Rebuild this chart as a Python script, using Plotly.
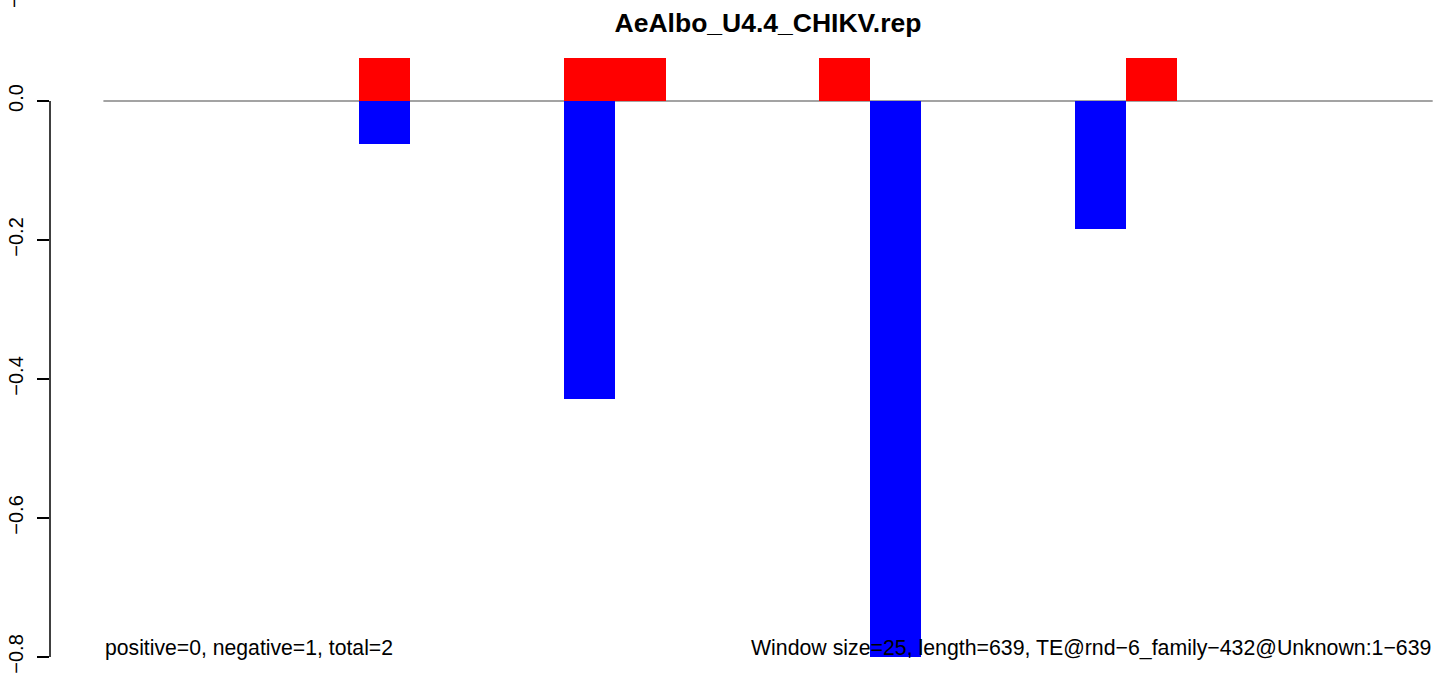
#!/usr/bin/env python3
"""
Window bar chart for AeAlbo_U4.4_CHIKV.rep (positive / negative strand hits)
"""

import plotly.graph_objects as go

# Data
title_text = "AeAlbo_U4.4_CHIKV.rep"
n_windows = 26

# windows with a positive-strand hit (red) and their bar height
pos_windows = [5, 9, 10, 14, 20]
pos_values = [0.062, 0.062, 0.062, 0.062, 0.062]

# windows with a negative-strand hit (blue) and their value
neg_windows = [5, 9, 15, 19]
neg_values = [-0.062, -0.429, -0.8, -0.184]

y_ticks = [0.0, -0.2, -0.4, -0.6, -0.8]
y_tick_labels = ["0.0", "\u22120.2", "\u22120.4", "\u22120.6", "\u22120.8"]

left_note = "positive=0, negative=1, total=2"
right_note = "Window size=25, length=639, TE@rnd\u22126_family\u2212432@Unknown:1\u2212639"

FONT = "Liberation Sans, Arial, Helvetica, sans-serif"

fig = go.Figure()

# Red bars (positive)
fig.add_trace(go.Bar(
    x=[w + 0.5 for w in pos_windows],
    y=pos_values,
    width=1,
    marker=dict(color="#ff0000", line=dict(width=0)),
    name="positive",
    showlegend=False
))

# Blue bars (negative)
fig.add_trace(go.Bar(
    x=[w + 0.5 for w in neg_windows],
    y=neg_values,
    width=1,
    marker=dict(color="#0000ff", line=dict(width=0)),
    name="negative",
    showlegend=False
))

# Gray zero line across the windows
fig.add_shape(
    type="line", xref="x", yref="y",
    x0=0, x1=n_windows, y0=0, y1=0,
    line=dict(color="#a3a3a3", width=2),
    layer="below"
)

# R-style y axis line, only between first and last tick
fig.add_shape(
    type="line", xref="paper", yref="y",
    x0=0, x1=0, y0=min(y_ticks), y1=max(y_ticks),
    line=dict(color="black", width=1.5)
)

fig.update_layout(
    width=1439,
    height=677,
    margin=dict(l=50, r=6, t=0, b=0),
    paper_bgcolor="white",
    plot_bgcolor="white",
    barmode="overlay",
    bargap=0,
    title=dict(
        text=f"<b>{title_text}</b>",
        x=(103 + 1433) / 2 / 1439, xanchor="center",
        y=1 - 23 / 677, yanchor="middle",
        font=dict(family=FONT, size=26.5, color="black")
    ),
    font=dict(family=FONT, color="black"),
    xaxis=dict(
        visible=False,
        range=[-1.0445, 26.006],
        fixedrange=True
    ),
    yaxis=dict(
        range=[-0.8288, 0.1453],
        showgrid=False,
        zeroline=False,
        showline=False,
        tickmode="array",
        tickvals=y_ticks,
        ticktext=y_tick_labels,
        ticks="outside",
        ticklen=12,
        tickwidth=1.5,
        tickcolor="black",
        tickangle=-90,
        ticklabelstandoff=6,
        tickfont=dict(family=FONT, size=20, color="black"),
        fixedrange=True
    )
)

# Bottom notes
fig.add_annotation(
    text=left_note,
    xref="x", yref="paper",
    x=0, y=1 - 648 / 677,
    xanchor="left", yanchor="middle",
    showarrow=False,
    font=dict(family=FONT, size=21.2, color="black")
)
fig.add_annotation(
    text=right_note,
    xref="x", yref="paper",
    x=n_windows, y=1 - 648 / 677,
    xanchor="right", yanchor="middle",
    showarrow=False,
    font=dict(family=FONT, size=21.3, color="black")
)

# Clipped label fragment at the top-left corner
fig.add_annotation(
    text="\u2212",
    xref="paper", yref="paper",
    x=(14 - 50) / 1383, y=1 - 2 / 677,
    xanchor="center", yanchor="middle",
    textangle=-90,
    showarrow=False,
    font=dict(family=FONT, size=20, color="black")
)

# drop the default 8px page margin so the figure sits at the window corner
fig.write_html(
    "out.html",
    config={"displayModeBar": False},
    post_script="document.body.style.margin='0px'; document.body.style.overflow='hidden';"
)
